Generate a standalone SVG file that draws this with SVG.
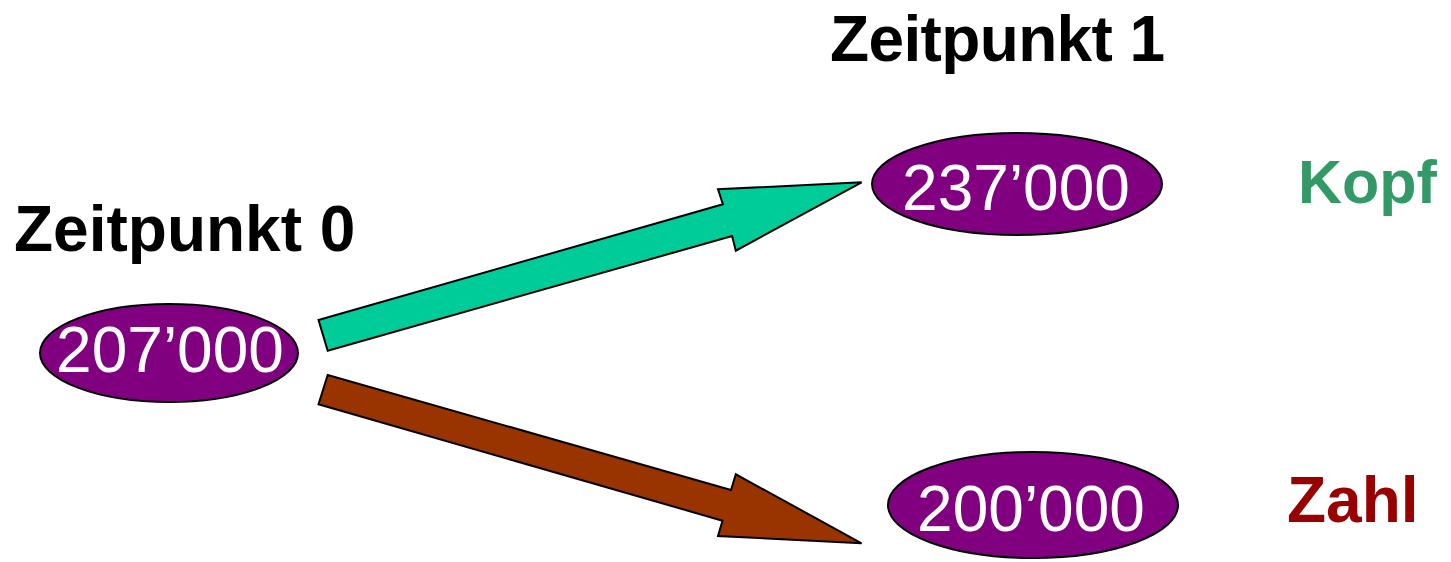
<svg xmlns="http://www.w3.org/2000/svg" width="1451" height="562" viewBox="0 0 1451 562">
<style>
.node ellipse{fill:#800080;stroke:#000;stroke-width:2}
.num{font-family:"Liberation Sans",Arial,sans-serif;font-size:64px;fill:#fff;text-anchor:middle}
.lbl{font-family:"Liberation Sans",Arial,sans-serif;font-size:64px;font-weight:bold}
.arrow{stroke:#000;stroke-width:2;stroke-linejoin:miter}
</style>
<rect width="1451" height="562" fill="#fff"/>
<g id="labels">
<text class="lbl" x="14" y="251" fill="#000">Zeitpunkt 0</text>
<text class="lbl" x="830" y="61" fill="#000" textLength="335">Zeitpunkt 1</text>
<text class="lbl" x="1298" y="203" fill="#339966" style="font-size:61px">Kopf</text>
<text class="lbl" x="1287" y="522" fill="#990000">Zahl</text>
</g>
<g id="connectors">
<polygon class="arrow" fill="#00CC99" points="318.5,320 722.9,204.3 718,189.3 861.6,182.3 735.8,250.7 732.1,236 327.7,350.7"/>
<polygon class="arrow" fill="#993300" points="327.7,375 731,490 735.8,474.3 861.6,543.3 718,536 722.5,520.7 318.5,404.3"/>
</g>
<g id="node-207000" class="node">
<ellipse cx="169" cy="353" rx="129" ry="49"/>
<text class="num" x="170" y="372">207’000</text>
</g>
<g id="node-237000" class="node">
<ellipse cx="1017" cy="184" rx="145" ry="51"/>
<text class="num" x="1016" y="210">237’000</text>
</g>
<g id="node-200000" class="node">
<ellipse cx="1033" cy="505" rx="145" ry="53"/>
<text class="num" x="1031" y="531">200’000</text>
</g>
</svg>
